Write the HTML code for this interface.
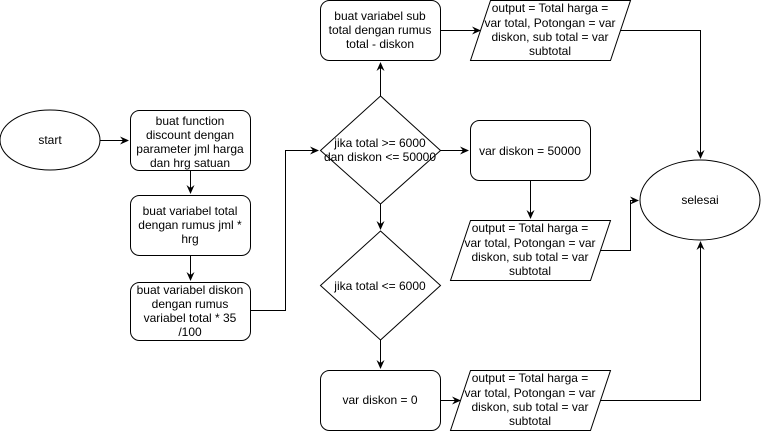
<!DOCTYPE html>
<html><head><style>body{margin:0;background:#fff}svg{display:block}text{font-family:"Liberation Sans",Arial,sans-serif;font-size:12px;fill:#000}</style></head>
<body>
<svg width="761" height="431" viewBox="0 0 761 431" xmlns="http://www.w3.org/2000/svg">
<defs><marker id="a" markerWidth="10" markerHeight="10" refX="8" refY="5" orient="auto" markerUnits="userSpaceOnUse"><path d="M0,1 L9,5 L0,9 L3,5 Z" fill="#000"/></marker></defs>
<g fill="#fff" stroke="#000" stroke-width="1">
<ellipse cx="50" cy="140" rx="50" ry="30"/>
<rect x="130.5" y="110.5" width="120" height="60" rx="9"/>
<rect x="130.5" y="195.5" width="120" height="60" rx="9"/>
<rect x="130.5" y="282.5" width="120" height="58" rx="9"/>
<rect x="320.5" y="0.5" width="120" height="60" rx="9"/>
<polygon points="490.5,0.5 630.5,0.5 610.5,60.5 470.5,60.5"/>
<polygon points="380.5,96 440.5,150.5 380.5,204 320.5,150.5"/>
<rect x="470.5" y="120.5" width="120" height="60" rx="9"/>
<polygon points="470.5,220.5 610.5,220.5 590.5,280.5 450.5,280.5"/>
<polygon points="380.5,231 440.5,285.5 380.5,340 320.5,285.5"/>
<rect x="320.5" y="370.5" width="120" height="60" rx="9"/>
<polygon points="470.5,370.5 610.5,370.5 590.5,430.5 450.5,430.5"/>
<ellipse cx="700" cy="200" rx="60" ry="40"/>
</g>
<g fill="none" stroke="#000" stroke-width="1" marker-end="url(#a)">
<path d="M100,140.5 H128"/>
<path d="M190.5,170 V193"/>
<path d="M190.5,255 V280"/>
<path d="M250,310.5 H285.5 V150.5 H318"/>
<path d="M380.5,96 V63"/>
<path d="M440,30.5 H480"/>
<path d="M440,150.5 H468"/>
<path d="M380.5,204 V229"/>
<path d="M380.5,340 V368"/>
<path d="M530.5,180 V218"/>
<path d="M440,400.5 H460"/>
<path d="M620,30.5 H700.5 V158"/>
<path d="M600,250.5 H630.5 V200.5 H638"/>
<path d="M600,400.5 H700.5 V242"/>
</g>
<g text-anchor="middle">
<text x="50" y="144">start</text>
<text x="190" y="125">buat function</text><text x="190" y="139">discount dengan</text><text x="190" y="153">parameter jml harga</text><text x="190" y="167">dan hrg satuan</text>
<text x="190" y="215">buat variabel total</text><text x="190" y="229">dengan rumus jml *</text><text x="190" y="243">hrg</text>
<text x="190" y="294">buat variabel diskon</text><text x="190" y="308">dengan rumus</text><text x="190" y="322">variabel total * 35</text><text x="190" y="336">/100</text>
<text x="380" y="20">buat variabel sub</text><text x="380" y="34">total dengan rumus</text><text x="380" y="48">total - diskon</text>
<text x="550" y="12">output = Total harga =</text><text x="550" y="27">var total, Potongan = var</text><text x="550" y="41">diskon, sub total = var</text><text x="550" y="55">subtotal</text>
<text x="380" y="147">jika total &gt;= 6000</text><text x="380" y="161">dan diskon &lt;= 50000</text>
<text x="530" y="155">var diskon = 50000</text>
<text x="530" y="232">output = Total harga =</text><text x="530" y="247">var total, Potongan = var</text><text x="530" y="261">diskon, sub total = var</text><text x="530" y="275">subtotal</text>
<text x="380" y="290">jika total &lt;= 6000</text>
<text x="380" y="404">var diskon = 0</text>
<text x="530" y="382">output = Total harga =</text><text x="530" y="397">var total, Potongan = var</text><text x="530" y="411">diskon, sub total = var</text><text x="530" y="425">subtotal</text>
<text x="700" y="204">selesai</text>
</g>
</svg>
</body></html>
